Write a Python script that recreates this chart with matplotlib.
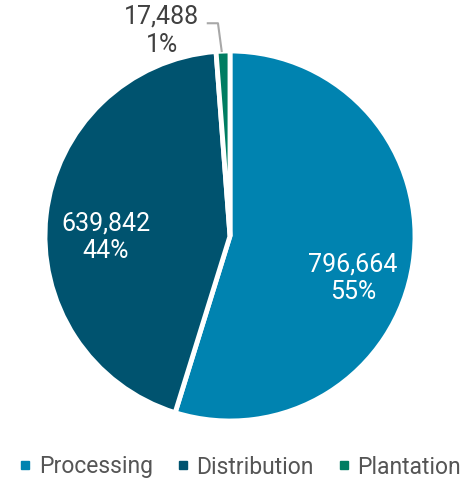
import matplotlib.pyplot as plt
from matplotlib.lines import Line2D

# data
segments = ["Processing", "Distribution", "Plantation"]
values = [796664, 639842, 17488]
colours = ["#0083B0", "#00536F", "#007D62"]

plt.rcParams["font.family"] = ["Roboto", "DejaVu Sans"]

fig = plt.figure(figsize=(4.61, 4.80), dpi=100)
# pie centred at about (230, 236) px with radius 185 px
ax = fig.add_axes([(230 - 185) / 461, (480 - 236 - 185) / 480, 370 / 461, 370 / 480])

ax.pie(values, colors=colours, startangle=90, counterclock=False,
       radius=1.0, wedgeprops=dict(edgecolor="white", linewidth=3.5))
ax.set_xlim(-1, 1)
ax.set_ylim(-1, 1)
ax.set_aspect("equal")
ax.axis("off")

total = sum(values)
labels = [f"{v:,}\n{round(v / total * 100):.0f}%" for v in values]

# inside labels
ax.text(0.665, -0.227, labels[0], color="white", fontsize=18,
        ha="center", va="center", linespacing=1.2)
ax.text(-0.67, -0.005, labels[1], color="white", fontsize=18,
        ha="center", va="center", linespacing=1.2)

# outside label with leader line for the small slice
ax.text(-0.368, 1.11, labels[2], color="#404040", fontsize=18,
        ha="center", va="center", linespacing=1.2)
ax.plot([-0.12, -0.065, -0.045], [1.15, 1.15, 1.0], color="#A8A8A8",
        linewidth=1.5, clip_on=False)

handles = [Line2D([0], [0], marker="s", linestyle="none", markersize=6,
                  markerfacecolor=c, markeredgecolor=c) for c in colours]
fig.legend(handles, segments, loc="center", bbox_to_anchor=(0.52, 1 - 467 / 480),
           ncol=3, frameon=False, fontsize=16.5, labelcolor="#555555",
           handlelength=0.6, handletextpad=0.3, columnspacing=1.0)

fig.savefig("out.png", dpi=100)
